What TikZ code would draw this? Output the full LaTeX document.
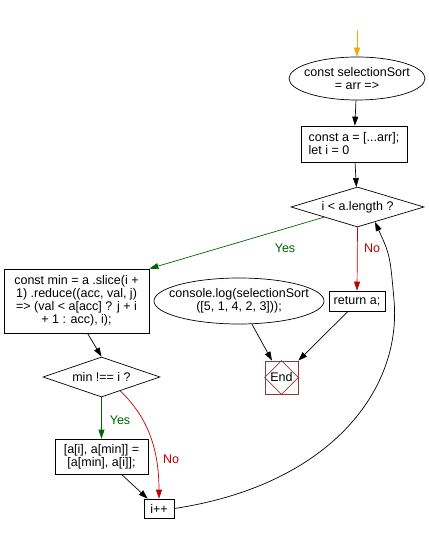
\documentclass[tikz,border=0pt]{standalone}
\usepackage{fontspec}
\setmainfont{Liberation Sans}
\usetikzlibrary{shapes.geometric,arrows.meta}
\definecolor{yesgreen}{HTML}{006400}
\definecolor{nored}{HTML}{C00000}
\definecolor{endred}{HTML}{8B3A3A}
\definecolor{startorange}{HTML}{FFA500}
\tikzset{
  every node/.style={font=\fontsize{12.5}{13}\selectfont},
  box/.style={draw, rectangle, line width=0.7pt, inner xsep=3pt, inner ysep=2pt},
  oval/.style={draw, ellipse, line width=0.7pt, inner sep=0pt},
  decision/.style={draw, diamond, line width=0.7pt, inner sep=0pt},
  arr/.style={line width=0.7pt, -{Triangle[length=9pt,width=6pt]}},
  yeslbl/.style={text=yesgreen},
  nolbl/.style={text=nored}
}
\begin{document}
\begin{tikzpicture}[x=1pt,y=-1pt]
\useasboundingbox (0,0) rectangle (428,534);
\coordinate (entry) at (357,30);
\node[oval, minimum width=136pt, minimum height=43pt,
      label={[align=center]center:const selectionSort\\= arr =>}] (start) at (357,78.5) {};
\node[box, align=left, minimum width=106pt, minimum height=36pt] (init) at (354,144)
  {const a = [...arr];\\let i = 0};
\node[decision, minimum width=133pt, minimum height=40pt,
      label={center:i < a.length ?}] (loop) at (357.5,207) {};
\node[box, align=center, minimum width=145pt, minimum height=64pt, inner xsep=1pt] (cmin) at (76.5,301)
  {const min = a .slice(i +\\1) .reduce((acc, val, j)\\=> (val < a[acc] ? j + i\\+ 1 : acc), i);};
\node[oval, minimum width=170pt, minimum height=46pt,
      label={[align=center]center:console.log(selectionSort\\([5, 1, 4, 2, 3]));}] (console) at (239,301) {};
\node[box, minimum width=56pt, minimum height=20pt] (ret) at (357,301) {return a;};
\node[draw=endred, rectangle, line width=0.7pt, minimum width=33pt, minimum height=33pt, inner sep=0pt] (end) at (281.5,377.5) {End};
\draw[endred, line width=0.6pt] (end.north) -- (end.east) -- (end.south) -- (end.west) -- cycle;
\node[decision, minimum width=117pt, minimum height=40pt,
      label={center:min !== i ?}] (chk) at (101.5,377) {};
\node[box, align=center, minimum width=93pt, minimum height=35pt] (swap) at (101.5,456.5)
  {{[a[i], a[min]] =}\\{}{[a[min], a[i]];}};
\node[box, minimum width=30pt, minimum height=19pt, inner sep=1pt] (inc) at (159,508.5) {i++};

\draw[arr, startorange] (entry) -- (start);
\draw[arr] (start) -- (init);
\draw[arr] (init) -- (loop);
\draw[arr, yesgreen] (loop.south west) -- (cmin.north east);
\node[yeslbl] (lyes1) at (285,248) {Yes};
\draw[arr, nored] (loop.south) -- (ret.north);
\node[nolbl] (lno1) at (372,248) {No};
\draw[arr] ([xshift=11pt]cmin.south) -- (chk.north);
\draw[arr, yesgreen] (chk.south) -- (swap.north);
\node[yeslbl] (lyes2) at (120,420) {Yes};
\coordinate (chkno) at (120,390.5);
\draw[arr, nored] (chkno) .. controls (142,412) and (159,440) .. (inc.north);
\node[nolbl] (lno2) at (171,459) {No};
\draw[arr] ([xshift=20pt]swap.south) -- ([xshift=4pt]inc.north west);
\draw[arr] ([xshift=13pt]console.south) -- ([xshift=-9.5pt]end.north);
\draw[arr] ([xshift=-9pt]ret.south) -- (end.north east);
\coordinate (loopin) at (375,222);
\draw[arr] (inc.east) .. controls (330,485) and (402,390) .. (394,300) .. controls (390,255) .. (loopin);
\end{tikzpicture}
\end{document}
